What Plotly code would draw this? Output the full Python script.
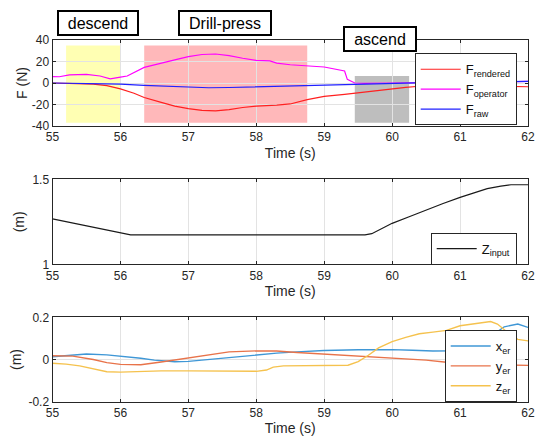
import plotly.graph_objects as go

# ---------------- data ----------------
t_rendered = [55.0, 55.3, 55.6, 55.8, 56.0, 56.2, 56.35, 56.6, 56.8, 57.0, 57.2, 57.4, 57.6, 57.8, 58.0,
              58.3, 58.5, 58.75, 59.0, 59.3, 59.5, 59.8, 60.0, 60.2, 60.4, 60.7, 61.0, 61.5, 62.0]
f_rendered = [0.0, -0.2, -1.0, -2.5, -5.5, -9.5, -13.5, -18.0, -21.5, -23.8, -25.5, -26.0, -24.8, -22.8, -21.5,
              -20.5, -19.5, -15.5, -12.5, -10.5, -9.0, -7.0, -5.5, -4.0, -3.0, -2.8, -2.8, -2.8, -3.5]

t_operator = [55.0, 55.1, 55.25, 55.5, 55.7, 55.85, 56.0, 56.1, 56.35, 56.6, 56.8, 57.0, 57.2, 57.4, 57.6,
              57.8, 58.0, 58.2, 58.3, 58.5, 58.75, 59.0, 59.3, 59.34, 59.45, 59.6, 60.0, 60.5, 61.0, 61.5, 62.0]
f_operator = [6.0, 5.8, 7.5, 8.0, 6.5, 3.8, 5.5, 6.5, 14.5, 18.0, 21.5, 24.5, 26.5, 27.0, 25.5,
              23.0, 21.0, 20.5, 18.5, 17.0, 15.8, 14.9, 11.2, 3.4, 0.0, -0.3, 0.0, 0.5, 0.5, 0.8, 1.5]

t_raw = [55.0, 55.5, 56.0, 56.35, 56.7, 57.0, 57.3, 57.6, 58.0, 58.5, 59.0, 59.5, 60.0, 60.5, 61.0, 61.5, 62.0]
f_raw = [0.0, -0.2, -1.0, -2.2, -3.2, -4.0, -4.4, -4.2, -3.5, -3.0, -2.0, -1.0, -0.2, 0.3, 0.5, 0.8, 1.5]

t_z = [55.0, 55.5, 56.0, 56.15, 57.0, 58.0, 59.0, 59.6, 59.7, 60.0, 60.25, 60.5, 60.75, 61.0, 61.2, 61.4,
       61.6, 61.75, 62.0]
z_input = [1.267, 1.226, 1.182, 1.173, 1.173, 1.174, 1.173, 1.173, 1.18, 1.241, 1.28, 1.32, 1.358, 1.394,
           1.42, 1.445, 1.46, 1.468, 1.468]

t_xer = [55.0, 55.3, 55.5, 55.8, 56.0, 56.3, 56.5, 56.8, 57.0, 57.3, 57.5, 58.0, 58.3, 58.6, 59.0, 59.5,
         60.0, 60.3, 60.6, 60.9, 61.1, 61.3, 61.5, 61.65, 61.85, 62.0]
x_er = [0.013, 0.022, 0.026, 0.022, 0.016, 0.006, -0.003, -0.011, -0.009, 0.0, 0.008, 0.020, 0.030, 0.036,
        0.043, 0.046, 0.047, 0.044, 0.040, 0.041, 0.05, 0.08, 0.12, 0.155, 0.168, 0.152]

t_yer = [55.0, 55.3, 55.6, 55.8, 56.0, 56.3, 56.6, 57.0, 57.3, 57.6, 58.0, 58.3, 58.6, 59.0, 59.5, 60.0,
         60.5, 60.8, 61.2, 61.6, 62.0]
y_er = [0.018, 0.016, 0.0, -0.015, -0.023, -0.025, -0.012, 0.007, 0.022, 0.036, 0.041, 0.040, 0.033, 0.025,
        0.016, 0.008, -0.003, -0.013, -0.02, -0.025, -0.028]

t_zer = [55.0, 55.2, 55.4, 55.6, 55.8, 56.0, 56.3, 56.6, 57.0, 57.5, 58.0, 58.15, 58.25, 58.4, 58.6, 59.0,
         59.35, 59.5, 59.65, 59.8, 60.0, 60.2, 60.4, 60.6, 60.8, 61.0, 61.2, 61.45, 61.55, 61.65, 61.75,
         61.85, 62.0]
z_er = [-0.018, -0.022, -0.03, -0.045, -0.058, -0.06, -0.057, -0.054, -0.054, -0.056, -0.056, -0.05, -0.036,
        -0.03, -0.029, -0.028, -0.027, -0.01, 0.02, 0.055, 0.085, 0.105, 0.122, 0.13, 0.138, 0.16, 0.17,
        0.18, 0.168, 0.14, 0.115, 0.095, 0.088]

# phases
phase_names = ["descend", "Drill-press", "ascend"]
phase_start = [55.2, 56.35, 59.45]
phase_end = [56.0, 58.75, 60.25]
phase_low = [-37, -37, -37]
phase_high = [35, 35, 6.5]
phase_colors = ["#FFFFB3", "#FFB8BA", "#BEBEBE"]

x_ticks = [55, 56, 57, 58, 59, 60, 61, 62]

# ---------------- figure ----------------
FONT = "Liberation Sans, Arial, sans-serif"
AX = "#262626"
GRID = "#E3E3E3"

W = 537
H = 443


def px(X):
    return X / W


def py(Y):
    return 1 - Y / H


fig = go.Figure()

fig.add_trace(go.Scatter(x=t_rendered, y=f_rendered, mode="lines", name="F<sub>rendered</sub>",
                         line=dict(color="#FF2020", width=1.2), xaxis="x", yaxis="y", legend="legend"))
fig.add_trace(go.Scatter(x=t_operator, y=f_operator, mode="lines", name="F<sub>operator</sub>",
                         line=dict(color="#FF00FF", width=1.2), xaxis="x", yaxis="y", legend="legend"))
fig.add_trace(go.Scatter(x=t_raw, y=f_raw, mode="lines", name="F<sub>raw</sub>",
                         line=dict(color="#2020FF", width=1.2), xaxis="x", yaxis="y", legend="legend"))

fig.add_trace(go.Scatter(x=t_z, y=z_input, mode="lines", name="Z<sub>input</sub>",
                         line=dict(color="#1A1A1A", width=1.2), xaxis="x2", yaxis="y2", legend="legend2"))

fig.add_trace(go.Scatter(x=t_xer, y=x_er, mode="lines", name="x<sub>er</sub>",
                         line=dict(color="#3F97D6", width=1.4), xaxis="x3", yaxis="y3", legend="legend3"))
fig.add_trace(go.Scatter(x=t_yer, y=y_er, mode="lines", name="y<sub>er</sub>",
                         line=dict(color="#E8734A", width=1.4), xaxis="x3", yaxis="y3", legend="legend3"))
fig.add_trace(go.Scatter(x=t_zer, y=z_er, mode="lines", name="z<sub>er</sub>",
                         line=dict(color="#F5C24E", width=1.4), xaxis="x3", yaxis="y3", legend="legend3"))

for s, e, lo, hi, c in zip(phase_start, phase_end, phase_low, phase_high, phase_colors):
    fig.add_shape(type="rect", xref="x", yref="y", x0=s, x1=e, y0=lo, y1=hi,
                  fillcolor=c, line=dict(width=0), layer="below")

xdom = [px(52.5), px(528)]


def xaxis(anchor):
    return dict(domain=xdom, anchor=anchor, range=[55, 62], tickvals=x_ticks, automargin=False,
                showgrid=True, gridcolor=GRID, gridwidth=1, zeroline=False,
                showline=True, linecolor=AX, linewidth=1, mirror="ticks",
                ticks="inside", ticklen=3, tickcolor=AX,
                tickfont=dict(family=FONT, size=12, color=AX),
                title=dict(text="Time (s)", font=dict(family=FONT, size=14, color=AX), standoff=4))


def yaxis(anchor, dom, rng, tv, tt, title, standoff):
    return dict(domain=dom, anchor=anchor, range=rng, tickvals=tv, ticktext=tt, automargin=False,
                showgrid=True, gridcolor=GRID, gridwidth=1, zeroline=False,
                showline=True, linecolor=AX, linewidth=1, mirror="ticks",
                ticks="inside", ticklen=3, tickcolor=AX,
                tickfont=dict(family=FONT, size=12, color=AX),
                title=dict(text=title, font=dict(family=FONT, size=14, color=AX), standoff=standoff))


legend_common = dict(bgcolor="white", bordercolor=AX, borderwidth=1,
                     font=dict(family=FONT, size=13, color="#111111"),
                     xanchor="right", yanchor="top", xref="paper", yref="paper",
                     tracegroupgap=0, itemwidth=40)

fig.update_layout(
    width=W, height=H,
    margin=dict(l=0, r=0, t=0, b=0, autoexpand=False),
    paper_bgcolor="white", plot_bgcolor="white",
    font=dict(family=FONT, color=AX),
    xaxis=xaxis("y"),
    yaxis=yaxis("x", [py(126), py(40)], [-40, 40], [-40, -20, 0, 20, 40],
                ["-40", "-20", "0", "20", "40"], "F (N)", 0),
    xaxis2=xaxis("y2"),
    yaxis2=yaxis("x2", [py(264.3), py(179.3)], [1, 1.5], [1, 1.5], ["1", "1.5"], "(m)", 4),
    xaxis3=xaxis("y3"),
    yaxis3=yaxis("x3", [py(401.7), py(317.3)], [-0.2, 0.2], [-0.2, 0, 0.2],
                 ["-0.2", "0", "0.2"], "(m)", 3),
    legend=dict(legend_common, x=px(516.7), y=py(53.3)),
    legend2=dict(legend_common, x=px(516.7), y=py(232.7)),
    legend3=dict(legend_common, x=px(516.7), y=py(330)),
    showlegend=True,
)

ann_x = [px(98), px(225), px(380)]
ann_y = [py(23), py(22.5), py(39)]
ann_w = [78, 90, 70]
for name, ax_, ay_, w in zip(phase_names, ann_x, ann_y, ann_w):
    fig.add_annotation(text=name, x=ax_, y=ay_, xref="paper", yref="paper",
                       xanchor="center", yanchor="middle", showarrow=False,
                       width=w, height=22, borderpad=0, borderwidth=2, bordercolor="black",
                       bgcolor="white", font=dict(family=FONT, size=16, color="black"))

fig.write_html("out.html", config={"displayModeBar": False},
               post_script="document.body.style.margin='0';document.body.style.overflow='hidden';")
